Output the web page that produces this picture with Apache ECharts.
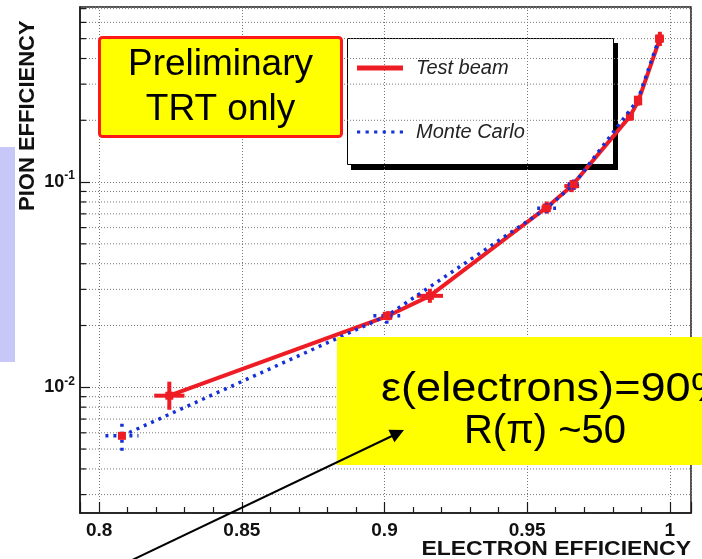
<!DOCTYPE html>
<html><head><meta charset="utf-8">
<script src="https://cdn.jsdelivr.net/npm/echarts@6/dist/echarts.min.js"></script>
<style>html,body{margin:0;padding:0;background:#fff}#c{width:702px;height:559px}</style>
</head><body><div id="c"></div>
<script>
const FF = "'Liberation Sans', Arial, Helvetica, sans-serif";
// axis ranges
const X_MIN = 0.7933, X_MAX = 1.0074;
const Y_MIN = 0.00244, Y_MAX = 0.713;
// minor horizontal grid lines of the log axis
const yMinorGrid = [0.003,0.004,0.005,0.006,0.007,0.008,0.009,
                    0.02,0.03,0.04,0.05,0.06,0.07,0.08,0.09,
                    0.2,0.3,0.4,0.5,0.6,0.7];
// Test beam
const tbEff    = [0.8246, 0.9013, 0.9159, 0.9568, 0.9656, 0.9860, 0.9889, 0.9965];
const tbPion   = [0.0091, 0.0223, 0.0279, 0.0752, 0.0956, 0.209, 0.2475, 0.50];
const tbEffErr = [0.0053, 0.0015, 0.0046, 0.0018, 0.0026, 0.0012, 0.0012, 0.0014];
const tbPionLo = [0.00777, 0.0212, 0.0258, 0.0703, 0.0893, 0.199, 0.236, 0.46];
const tbPionHi = [0.01065, 0.0235, 0.0302, 0.0804, 0.1023, 0.220, 0.259, 0.54];
// Monte Carlo
const mcEff    = [0.8080, 0.9008, 0.9568, 0.9663, 0.9888, 0.9962];
const mcPion   = [0.0058, 0.0223, 0.0745, 0.0975, 0.252, 0.50];
const mcEffErr = [0.0058, 0.0047, 0.0033, 0.0021, 0.0010, 0.0010];
const mcPionLo = [0.00491, 0.0204, 0.0705, 0.092, 0.242, 0.48];
const mcPionHi = [0.00685, 0.0244, 0.0787, 0.103, 0.262, 0.52];

const RED = '#ee1c24', BLUE = '#1530d8', DOTS = [3, 5];
const DOT_ICON = 'path://M0,0h3v3h-3z M8,0h3v3h-3z M16,0h3v3h-3z M24,0h3v3h-3z M32,0h3v3h-3z M40,0h3v3h-3z';

function errRender(color, width, dash) {
  return function (params, api) {
    const x = api.value(0), y = api.value(1), xe = api.value(2), ylo = api.value(3), yhi = api.value(4);
    const l = api.coord([x - xe, y]), r = api.coord([x + xe, y]);
    const lo = api.coord([x, ylo]), hi = api.coord([x, yhi]);
    const c = api.coord([x, y]);
    const st = { stroke: color, lineWidth: width, lineDash: dash, fill: null };
    return { type: 'group', children: [
      { type: 'line', shape: { x1: l[0], y1: l[1], x2: r[0], y2: r[1] }, style: st },
      { type: 'line', shape: { x1: lo[0], y1: lo[1], x2: hi[0], y2: hi[1] }, style: st },
      { type: 'rect', shape: { x: c[0] - 4, y: c[1] - 4, width: 8, height: 8 }, style: { fill: RED } }
    ]};
  };
}

const chart = echarts.init(document.getElementById('c'), null, { renderer: 'canvas' });
chart.setOption({
  animation: false,
  backgroundColor: '#fff',
  grid: { left: 80, right: 11, top: 7, bottom: 46, show: true, borderColor: '#1a1a1a', borderWidth: 1.5,
          containLabel: false, outerBoundsMode: 'none' },
  legend: {
    orient: 'vertical', left: 347, top: 38, padding: [20, 89, 23, 10],
    itemGap: 44, itemWidth: 46, itemHeight: 5,
    textStyle: { fontFamily: FF, fontStyle: 'italic', fontSize: 20, lineHeight: 20, color: '#222', padding: [0, 0, 0, 8] },
    data: [
      { name: 'Test beam', icon: 'rect', itemStyle: { color: RED } },
      { name: 'Monte Carlo', icon: DOT_ICON, itemStyle: { color: BLUE } }
    ],
    z: 3
  },
  xAxis: {
    type: 'value', min: X_MIN, max: X_MAX, z: 2,
    axisLine: { show: true, lineStyle: { color: '#1a1a1a', width: 1.5 } },
    axisTick: { show: true, inside: true, length: 11, lineStyle: { color: '#1a1a1a', width: 1.2 } },
    minorTick: { show: true, splitNumber: 5, length: 6, lineStyle: { color: '#1a1a1a', width: 1.2 } },
    axisLabel: { margin: 8, fontFamily: FF, fontWeight: 'bold', fontSize: 19, color: '#111', showMinLabel: false, showMaxLabel: false },
    splitLine: { show: true, lineStyle: { color: '#777', width: 1, type: [1, 2] } }
  },
  yAxis: {
    type: 'log', logBase: 10, min: Y_MIN, max: Y_MAX, z: 2,
    name: 'PION EFFICIENCY', nameLocation: 'end', nameRotate: 90, nameGap: -204,
    nameTextStyle: { fontFamily: FF, fontWeight: 'bold', fontSize: 22, color: '#111', verticalAlign: 'bottom', padding: [0, 0, 41, 0] },
    axisLine: { show: true, lineStyle: { color: '#1a1a1a', width: 1.5 } },
    axisTick: { show: true, inside: true, length: 10, lineStyle: { color: '#1a1a1a', width: 1.2 } },
    axisLabel: {
      margin: 5, showMinLabel: false, showMaxLabel: false,
      formatter: v => '{b|10}{s|' + Math.round(Math.log10(v)) + '}',
      rich: {
        b: { fontFamily: FF, fontWeight: 'bold', fontSize: 18, lineHeight: 24, color: '#111' },
        s: { fontFamily: FF, fontWeight: 'bold', fontSize: 12, lineHeight: 12, verticalAlign: 'top', color: '#111' }
      }
    },
    splitLine: { show: true, lineStyle: { color: '#777', width: 1, type: [1, 2] } }
  },
  series: [
    {
      name: 'yGrid', type: 'custom', silent: true, z: 2, clip: false,
      data: yMinorGrid.map(v => [X_MIN, v]), encode: { x: 0, y: 1 },
      renderItem: function (params, api) {
        const v = api.value(1);
        const p0 = api.coord([X_MIN, v]), p1 = api.coord([X_MAX, v]);
        return { type: 'group', children: [
          { type: 'line', shape: { x1: p0[0], y1: p0[1], x2: p1[0], y2: p1[1] }, style: { stroke: '#777', lineWidth: 1, lineDash: [1, 2] } },
          { type: 'line', shape: { x1: p0[0], y1: p0[1], x2: p0[0] + 6, y2: p0[1] }, style: { stroke: '#1a1a1a', lineWidth: 1.2 } }
        ]};
      }
    },
    {
      name: 'Test beam', type: 'line', z: 3, symbol: 'none',
      data: tbEff.map((x, i) => [x, tbPion[i]]),
      lineStyle: { color: RED, width: 4 }, itemStyle: { color: RED }
    },
    {
      name: 'tbErr', type: 'custom', z: 4, clip: false,
      data: tbEff.map((x, i) => [x, tbPion[i], tbEffErr[i], tbPionLo[i], tbPionHi[i]]),
      encode: { x: 0, y: 1 }, renderItem: errRender(RED, 4, null)
    },
    {
      name: 'Monte Carlo', type: 'line', z: 5, symbol: 'none',
      data: mcEff.map((x, i) => [x, mcPion[i]]),
      lineStyle: { color: BLUE, width: 3.5, type: DOTS, cap: 'butt' }, itemStyle: { color: BLUE }
    },
    {
      name: 'mcErr', type: 'custom', z: 6, clip: false,
      data: mcEff.map((x, i) => [x, mcPion[i], mcEffErr[i], mcPionLo[i], mcPionHi[i]]),
      encode: { x: 0, y: 1 }, renderItem: errRender(BLUE, 3.5, DOTS)
    }
  ],
  graphic: [
    // legend frame with drop shadow (drawn under the grid lines and curves)
    { type: 'rect', z: 0, shape: { x: 351, y: 43, width: 267, height: 127 }, style: { fill: '#000' } },
    { type: 'rect', z: 0, shape: { x: 347.5, y: 38.5, width: 266, height: 126 }, style: { fill: '#fff', stroke: '#000', lineWidth: 1 } },
    // x axis title
    { type: 'text', z: 5, x: 691, y: 549, scaleX: 1.15, style: { text: 'ELECTRON EFFICIENCY', fontFamily: FF, fontWeight: 'bold', fontSize: 20, fill: '#111', textAlign: 'right', textVerticalAlign: 'middle' } },
    { type: 'rect', z: 10, shape: { x: 0, y: 147, width: 15, height: 215 }, style: { fill: '#c8c8f8' } },
    { type: 'rect', z: 10, shape: { x: 99.5, y: 37.5, width: 242, height: 99, r: 3 }, style: { fill: '#ffff00', stroke: '#ff1a1a', lineWidth: 3 } },
    { type: 'text', z: 11, x: 220.5, y: 65, style: { text: 'Preliminary', fontFamily: FF, fontSize: 37, fill: '#000', textAlign: 'center', textVerticalAlign: 'middle' } },
    { type: 'text', z: 11, x: 220.5, y: 110, style: { text: 'TRT only', fontFamily: FF, fontSize: 37, fill: '#000', textAlign: 'center', textVerticalAlign: 'middle' } },
    { type: 'rect', z: 10, shape: { x: 337, y: 337, width: 365, height: 128 }, style: { fill: '#ffff00' } },
    { type: 'text', z: 11, x: 381, y: 390, scaleX: 1.1, style: { text: 'ε(electrons)=90%', fontFamily: FF, fontSize: 41, fill: '#000', textAlign: 'left', textVerticalAlign: 'middle' } },
    { type: 'text', z: 11, x: 545, y: 432, style: { text: 'R(π) ~50', fontFamily: FF, fontSize: 40, fill: '#000', textAlign: 'center', textVerticalAlign: 'middle' } },
    { type: 'line', z: 12, shape: { x1: 128, y1: 562, x2: 392, y2: 436 }, style: { stroke: '#000', lineWidth: 2 } },
    { type: 'polygon', z: 12, shape: { points: [[404, 430], [394.4, 442.3], [388.4, 429.7]] }, style: { fill: '#000' } }
  ]
});
</script></body></html>
